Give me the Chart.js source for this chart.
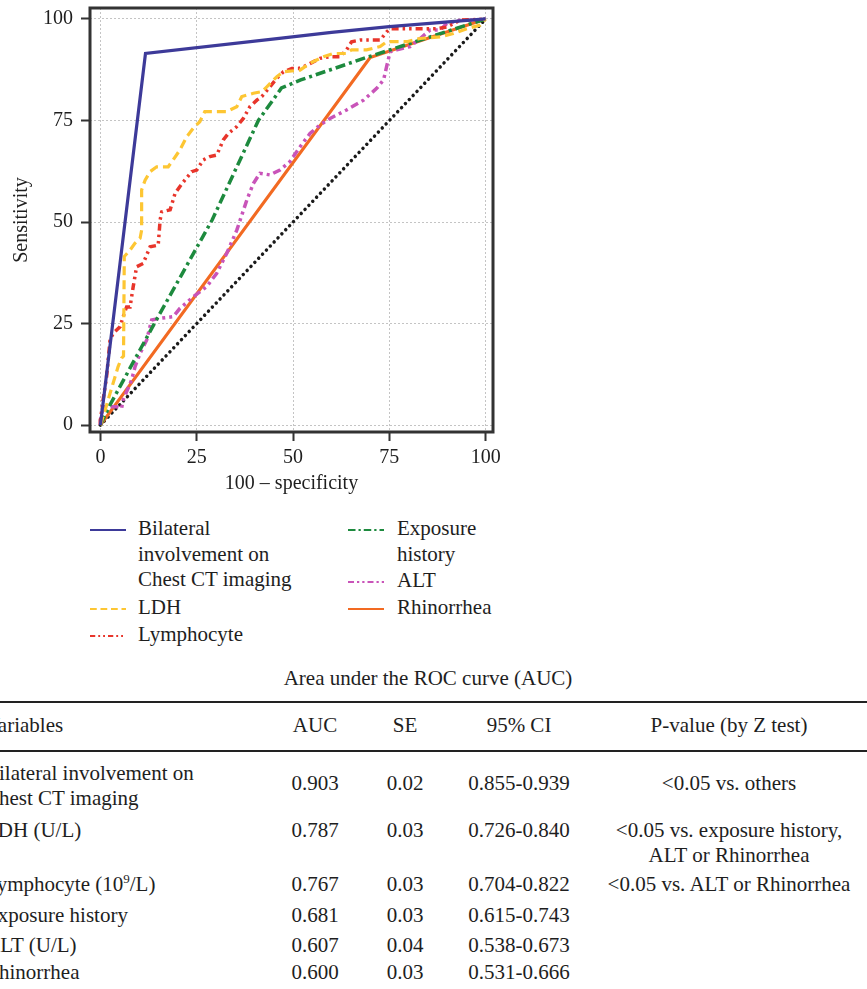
<!DOCTYPE html>
<html>
<head>
<meta charset="utf-8">
<script src="https://cdn.jsdelivr.net/npm/chart.js@4/dist/chart.umd.min.js"></script>
<style>
  body { margin: 0; background: #fff; font-family: "Liberation Serif", serif; color: #1e1e1e; }
  #page { position: relative; width: 867px; height: 989px; overflow: hidden; }
  #roc { position: absolute; left: 0; top: 0; }
  .lg { position: absolute; font-size: 21px; line-height: 25.5px; white-space: nowrap; }
  .lg svg { position: absolute; top: 9px; }
  .cell { position: absolute; font-size: 21px; line-height: 25px; white-space: nowrap; }
  .c { transform: translate(-50%, -50%); text-align: center; }
  .l { transform: translate(0, -50%); }
  .rule { position: absolute; left: 0; width: 867px; height: 2px; background: #222; }
  sup { font-size: 0.62em; line-height: 0; vertical-align: 0.6em; }
</style>
</head>
<body>
<div id="page">
  <canvas id="roc" width="867" height="500"></canvas>
</div>
<script>
// roc curves as [100 - specificity, sensitivity]
var diagonal = [[0, 0], [100, 100]]
var bilateral = [[0, 0], [11.7, 91.5], [47, 95.3], [60, 96.7], [75, 98.1], [100, 100]]
var ldh = [[0, 0], [1.6, 4.9], [2.5, 7.8], [4.6, 14.4], [5.5, 16.5], [6, 17], [6.2, 41.5], [7.7, 43.1], [9, 44.8],
    [10.3, 46], [10.7, 48], [10.7, 57.9], [11.6, 60.3], [12.9, 62.4], [14.6, 63.6], [17.6, 63.6], [18.9, 65.3],
    [20.6, 67.7], [22.4, 71], [24.1, 73.1], [25.8, 74.7], [27.1, 77.2], [32.8, 77.2], [35.4, 78.4], [36.7, 80.9],
    [39.7, 81.7], [41.9, 82.1], [43.2, 83.3], [45.8, 85.8], [47.5, 87], [51.8, 87.4], [54.4, 89.1], [57.9, 90.7],
    [60.5, 91.5], [63.9, 91.5], [65.2, 92.4], [69.1, 92.4], [72.6, 93.2], [74.3, 94.4], [79.5, 94.4], [83, 95.2],
    [88.2, 95.6], [91.6, 96.4], [95.1, 97.6], [98.6, 98.5], [100, 100]]
var lymphocyte = [[0, 0], [0, 1.2], [0.7, 6.2], [1.6, 11.9], [2.5, 20.9], [3.3, 22.6], [5.1, 24.2], [5.9, 26.7],
    [6.8, 29.1], [7.7, 29.1], [8.5, 34], [9.4, 39], [11.1, 39.8], [12.9, 43.9], [15, 44.3], [15.5, 50.5],
    [15.9, 52.5], [18.1, 53], [19.4, 57.1], [20.6, 58.7], [21.9, 60.3], [23.7, 62.4], [25, 62.8], [26.7, 65.3],
    [28.4, 66.1], [30.2, 66.5], [31.9, 70.2], [33.2, 71.8], [35.4, 73.5], [37.1, 75.5], [38.8, 78.4], [40.6, 80],
    [41.9, 80.9], [44, 83.3], [45.8, 85.4], [47.5, 87], [49.7, 87.8], [51.4, 87.8], [52.7, 88.2], [57, 90.3],
    [59.6, 90.7], [62.2, 90.7], [63.9, 92.4], [65.2, 94.4], [67.4, 94.8], [72.6, 94.8], [74.3, 96.8], [75.2, 97.6],
    [87.3, 97.6], [89.9, 98], [93.4, 99.7], [98.6, 99.9], [100, 100]]
var exposure = [[0, 0], [2.5, 5], [14, 25], [29, 50.5], [41, 75], [47, 83], [52, 85], [69, 90.5], [100, 100]]
var alt = [[0, 0], [0, 1.2], [0.7, 4.5], [4.2, 4.5], [5.5, 4.1], [5.9, 6.2], [8.1, 11.1], [9, 14.4], [10.3, 17.7],
    [12, 20.9], [13.3, 25.9], [15.5, 26.3], [18.9, 26.7], [20.6, 28.7], [24.1, 31.6], [27.6, 34.1], [30.2, 37.4],
    [32.8, 42.3], [35.4, 48], [38, 55.4], [39.7, 59.5], [41.4, 62], [44, 61.6], [46.6, 62.8], [49.2, 64.9],
    [51.8, 68.5], [54.4, 71.8], [57, 73.9], [59.6, 75.5], [63.9, 77.6], [68.3, 80], [71.7, 82.9], [73.5, 85],
    [74.3, 88.3], [75.2, 91.9], [76.9, 92.4], [80.4, 93.2], [83, 95.2], [85.6, 97.3], [88.2, 97.3], [89.9, 98.9],
    [93.4, 99.7], [98.6, 99.7], [100, 100]]
var rhinorrhea = [[0, 0], [70, 90.5], [100, 100]]

var xTicks = [0, 25, 50, 75, 100]
var yTicks = [0, 25, 50, 75, 100]

// table
var tableTitle = 'Area under the ROC curve (AUC)'
var headers = ['Variables', 'AUC', 'SE', '95% CI', 'P-value (by Z test)']
var variables = ['Bilateral involvement on<br>Chest CT imaging', 'LDH (U/L)', 'Lymphocyte (10<sup>9</sup>/L)',
    'Exposure history', 'ALT (U/L)', 'Rhinorrhea']
var aucValues = ['0.903', '0.787', '0.767', '0.681', '0.607', '0.600']
var seValues = ['0.02', '0.03', '0.03', '0.03', '0.04', '0.03']
var ciValues = ['0.855-0.939', '0.726-0.840', '0.704-0.822', '0.615-0.743', '0.538-0.673', '0.531-0.666']
var pValues = ['&lt;0.05 vs. others', '&lt;0.05 vs. exposure history,<br>ALT or Rhinorrhea',
    '&lt;0.05 vs. ALT or Rhinorrhea', '', '', '']

var series = [
    { label: 'Bilateral<br>involvement on<br>Chest CT imaging', data: bilateral, color: '#3d3a99', dash: [], width: 3.2 },
    { label: 'LDH', data: ldh, color: '#fdc633', dash: [9, 5], width: 3.2 },
    { label: 'Lymphocyte', data: lymphocyte, color: '#e8352b', dash: [7, 4, 2.5, 4, 2.5, 4], width: 3.5 },
    { label: 'Exposure<br>history', data: exposure, color: '#1d8a3e', dash: [10, 4, 3, 4], width: 3.5 },
    { label: 'ALT', data: alt, color: '#c954b9', dash: [8, 4, 3, 4, 3, 4], width: 3.5 },
    { label: 'Rhinorrhea', data: rhinorrhea, color: '#f26a22', dash: [], width: 3.2 }
]

var font = { family: 'Liberation Serif', size: 20 }

var datasets = series.map(function (s) {
    return {
        label: s.label,
        data: s.data.map(function (p) { return { x: p[0], y: p[1] } }),
        borderColor: s.color,
        borderWidth: s.width,
        borderDash: s.dash,
        pointRadius: 0,
        tension: 0,
        fill: false
    }
})
datasets.push({
    label: 'reference',
    data: diagonal.map(function (p) { return { x: p[0], y: p[1] } }),
    borderColor: '#1a1a1a',
    borderWidth: 3.5,
    borderDash: [0.01, 5.6],
    borderCapStyle: 'round',
    pointRadius: 0,
    fill: false
})

var frame = {
    id: 'frame',
    afterDraw: function (chart) {
        var a = chart.chartArea, c = chart.ctx
        c.save()
        c.strokeStyle = '#333'
        c.lineWidth = 3
        c.strokeRect(a.left, a.top, a.right - a.left, a.bottom - a.top)
        c.restore()
    }
}

function axis(min, max, ticks, title, isX) {
    return {
        type: 'linear',
        min: min,
        max: max,
        afterBuildTicks: function (s) { s.ticks = ticks.map(function (v) { return { value: v } }) },
        afterFit: function (s) {
            if (isX) { s.height = 500 - 432 } else { s.width = 90 }
            s.paddingTop = 0
            s.paddingBottom = 0
        },
        grid: { color: '#c4c4c4', lineWidth: 1, tickColor: '#333', tickWidth: 2, tickLength: 9, tickBorderDash: [1, 0] },
        border: { display: false, dash: [2, 2] },
        ticks: { color: '#1e1e1e', font: font, padding: isX ? 5 : 8, maxRotation: 0, autoSkip: false },
        title: { display: true, text: title, color: '#1e1e1e', font: font, padding: isX ? { top: 0, bottom: 4 } : { top: 10, bottom: 0 } }
    }
}

var chart = new Chart(document.getElementById('roc'), {
    type: 'line',
    data: { datasets: datasets },
    options: {
        responsive: false,
        animation: false,
        layout: { padding: { left: 0, top: 8, right: 867 - 493, bottom: 0 } },
        scales: {
            x: axis(-2.7, 101.9, xTicks, '100 \u2013 specificity', true),
            y: axis(-1.7, 102.7, yTicks, 'Sensitivity', false)
        },
        plugins: { legend: { display: false }, tooltip: { enabled: false } }
    },
    plugins: [frame]
})

var page = document.getElementById('page')
function add(html, cls, x, y) {
    var d = document.createElement('div')
    d.className = cls
    d.style.left = x + 'px'
    d.style.top = y + 'px'
    d.innerHTML = html
    page.appendChild(d)
    return d
}

// legend, two columns below the plot
var legendSpots = [[90, 516], [90, 595], [90, 622], [348, 516], [348, 568], [348, 595]]
series.forEach(function (s, i) {
    var spot = legendSpots[i]
    var d = add('', 'lg', spot[0], spot[1])
    var svg = '<svg width="36" height="10" style="left:0"><line x1="0" y1="5" x2="36" y2="5" stroke="' + s.color +
        '" stroke-width="2" stroke-dasharray="' + (s.dash.length ? s.dash.map(function (v) { return v * 0.75 }).join(' ') : 'none') + '"/></svg>'
    d.innerHTML = svg + '<div style="margin-left:' + (spot[0] === 90 ? 48 : 49) + 'px">' + s.label + '</div>'
})

// table
add(tableTitle, 'cell c', 428, 678)
add('', 'rule', 0, 701)
add('', 'rule', 0, 750)
var colX = [-15, 315, 405, 519, 729]
headers.forEach(function (h, i) { add(h, i ? 'cell c' : 'cell l', colX[i], 725) })
var varY = [785.5, 830, 884, 915, 945, 972]
var valY = [783, 830, 884, 915, 945, 972]
var pY = [783, 842.5, 884, 915, 945, 972]
variables.forEach(function (v, i) {
    add(v, 'cell l', colX[0], varY[i])
    add(aucValues[i], 'cell c', colX[1], valY[i])
    add(seValues[i], 'cell c', colX[2], valY[i])
    add(ciValues[i], 'cell c', colX[3], valY[i])
    if (pValues[i]) add(pValues[i], 'cell c', colX[4], pY[i])
})
</script>
</body>
</html>
